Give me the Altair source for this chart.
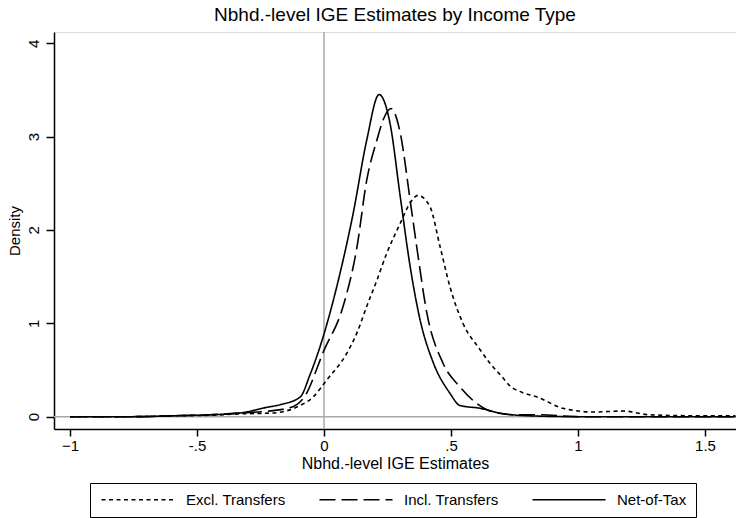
import altair as alt
import pandas as pd

# Net-of-Tax (solid)
net_x = [-1.0, -0.75, -0.59, -0.45, -0.33, -0.225, -0.17, -0.094, -0.055, -0.004, 0.05, 0.115, 0.168, 0.217, 0.26, 0.30, 0.339, 0.378, 0.43, 0.496, 0.535, 0.614, 0.69, 0.8, 1.0, 1.2, 1.4, 1.62]
net_y = [0.0, 0.0, 0.01, 0.02, 0.04, 0.10, 0.13, 0.21, 0.45, 0.85, 1.39, 2.18, 2.96, 3.45, 3.14, 2.36, 1.61, 1.04, 0.58, 0.25, 0.12, 0.09, 0.04, 0.01, 0.0, 0.0, 0.0, 0.0]

# Incl. Transfers (dashed)
incl_x = [-1.0, -0.75, -0.59, -0.45, -0.33, -0.2, -0.12, -0.08, 0.0, 0.075, 0.13, 0.168, 0.208, 0.233, 0.264, 0.30, 0.339, 0.365, 0.405, 0.469, 0.535, 0.602, 0.665, 0.75, 0.85, 1.0, 1.2, 1.4, 1.62]
incl_y = [0.0, 0.0, 0.01, 0.02, 0.04, 0.065, 0.11, 0.20, 0.71, 1.18, 1.82, 2.53, 2.96, 3.18, 3.30, 3.04, 2.32, 1.82, 1.11, 0.57, 0.32, 0.14, 0.05, 0.02, 0.02, 0.0, 0.0, 0.0, 0.0]

# Excl. Transfers (dotted)
excl_x = [-1.0, -0.75, -0.59, -0.45, -0.33, -0.2, -0.094, -0.043, 0.01, 0.09, 0.13, 0.168, 0.208, 0.247, 0.30, 0.339, 0.37, 0.417, 0.457, 0.496, 0.547, 0.614, 0.654, 0.70, 0.732, 0.78, 0.84, 0.94, 1.06, 1.18, 1.28, 1.45, 1.62]
excl_y = [0.0, 0.0, 0.01, 0.015, 0.03, 0.04, 0.12, 0.21, 0.39, 0.68, 0.90, 1.18, 1.46, 1.75, 2.07, 2.29, 2.37, 2.25, 1.82, 1.39, 1.00, 0.72, 0.57, 0.43, 0.33, 0.26, 0.21, 0.09, 0.05, 0.06, 0.02, 0.01, 0.01]

series = ["Excl. Transfers", "Incl. Transfers", "Net-of-Tax"]
x_ticks = [-1, -0.5, 0, 0.5, 1, 1.5]
y_ticks = [0, 1, 2, 3, 4]

rows = []
for name, xs, ys in [(series[0], excl_x, excl_y), (series[1], incl_x, incl_y), (series[2], net_x, net_y)]:
    for i, (a, b) in enumerate(zip(xs, ys)):
        rows.append({"series": name, "x": a, "y": b, "order": i})
df = pd.DataFrame(rows)

FONT = "Liberation Sans"

xscale = alt.Scale(domain=[-1.063, 1.622], nice=False, zero=False)
yscale = alt.Scale(domain=[-0.132, 4.12], nice=False, zero=False)

xaxis = alt.Axis(values=x_ticks, title="Nbhd.-level IGE Estimates", grid=False,
                 labelExpr="datum.value == 0.5 ? '.5' : datum.value == -0.5 ? '-.5' : format(datum.value, '~g')",
                 tickSize=7, tickColor="black", tickWidth=1.5, domainColor="black", domainWidth=1.5,
                 labelFontSize=15, titleFontSize=16, labelFont=FONT, titleFont=FONT,
                 labelColor="black", titleColor="black", titleFontWeight="normal",
                 labelPadding=2, titlePadding=2)
yaxis = alt.Axis(values=y_ticks, title="Density", grid=False, labelAngle=270, format="d",
                 labelAlign="center", labelBaseline="bottom",
                 tickSize=8, tickColor="black", tickWidth=1.5, domainColor="black", domainWidth=1.5,
                 labelFontSize=15, titleFontSize=15, labelFont=FONT, titleFont=FONT,
                 labelColor="black", titleColor="black", titleFontWeight="normal",
                 labelPadding=5, titlePadding=4)

lines = alt.Chart(df).mark_line(color="black", strokeWidth=1.6, interpolate="monotone", clip=True).encode(
    x=alt.X("x:Q", scale=xscale, axis=xaxis),
    y=alt.Y("y:Q", scale=yscale, axis=yaxis),
    order="order:Q",
    strokeDash=alt.StrokeDash(
        "series:N",
        scale=alt.Scale(domain=series, range=[[4, 3.5], [16, 6], [1, 0]]),
        legend=alt.Legend(
            orient="none", legendX=36, legendY=451, direction="horizontal",
            title=None, symbolType="M-1,0H13.6", symbolSize=100, symbolStrokeWidth=1.6,
            symbolStrokeColor="black", symbolFillColor="transparent",
            labelFontSize=15, labelFont=FONT, labelColor="black",
            labelOffset=72, columnPadding=30, strokeColor="black", padding=9,
        ),
    ),
)

vline = alt.Chart(pd.DataFrame({"x": [0]})).mark_rule(color="#a8a8a8", strokeWidth=1.5).encode(
    x=alt.X("x:Q", scale=xscale))
hline = alt.Chart(pd.DataFrame({"y": [0]})).mark_rule(color="#a8a8a8", strokeWidth=1.5).encode(
    y=alt.Y("y:Q", scale=yscale))

chart = alt.layer(vline, hline, lines).properties(
    width=682, height=397,
    title=alt.TitleParams("Nbhd.-level IGE Estimates by Income Type", fontSize=19, font=FONT,
                          fontWeight="normal", color="black", anchor="middle", offset=6),
    autosize=alt.AutoSizeParams(type="none"),
    padding={"left": 54, "top": 32, "right": 0, "bottom": 89},
).configure_view(stroke="black", strokeWidth=1.5).configure(background="white")

chart.save("out.html", embed_options={"renderer": "svg", "actions": False})
